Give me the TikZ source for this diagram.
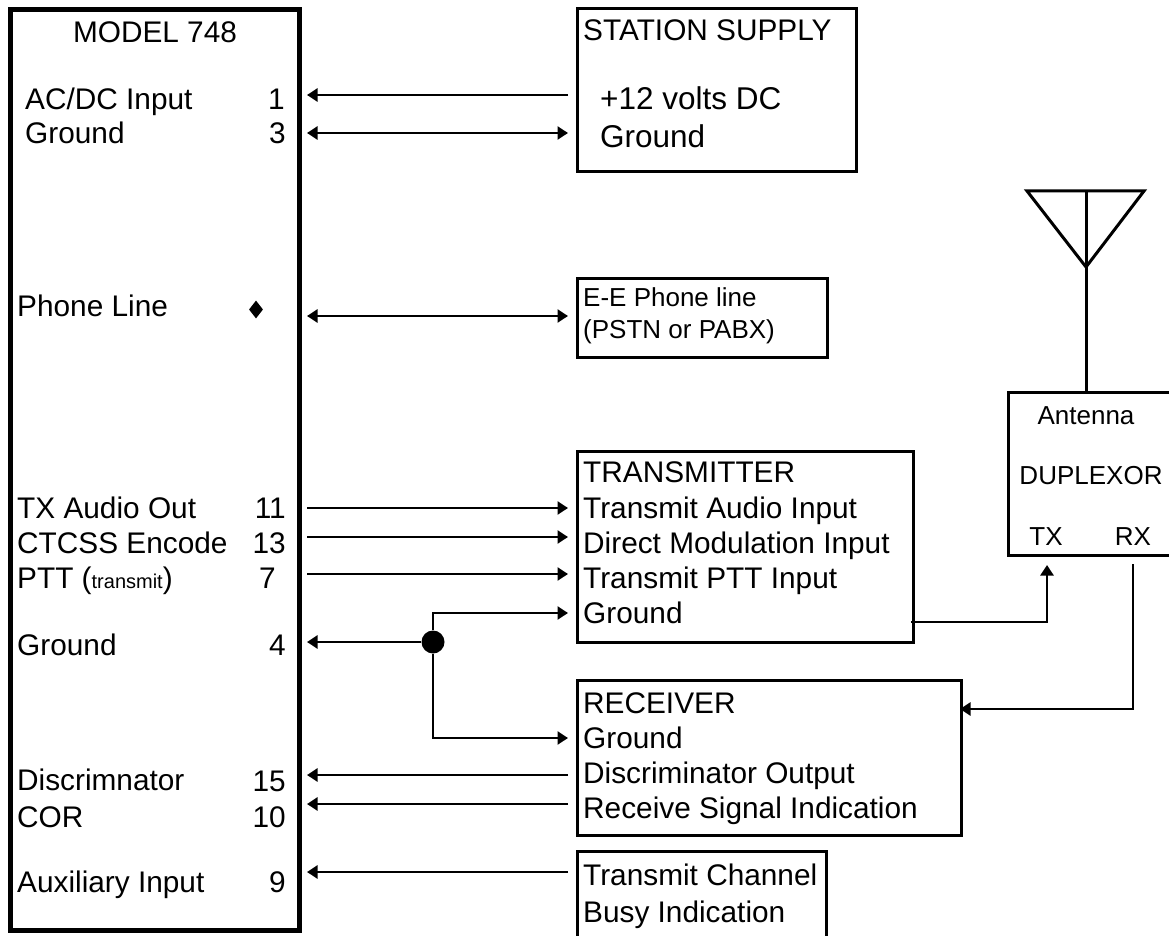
\documentclass[tikz,border=0pt]{standalone}
\usepackage{fontspec}
\setmainfont{Liberation Sans}
\usetikzlibrary{arrows.meta, shapes.geometric}
\newcommand{\fsmain}{\fontsize{29.8}{34}\selectfont}
\newcommand{\fsbig}{\fontsize{31.5}{36}\selectfont}
\newcommand{\fsdup}{\fontsize{26}{30}\selectfont}
\tikzset{
  box/.style={draw, line width=3pt, anchor=north west, inner sep=0pt, outer sep=0pt},
  lbl/.style={anchor=base west, inner sep=0pt, font=\fsmain},
  pin/.style={anchor=base east, inner sep=0pt, font=\fsmain},
  duplbl/.style={anchor=base, inner sep=0pt, font=\fsdup},
  arr/.style={-{Triangle[length=10.5pt,width=13pt]}, line width=2.4pt},
  arrboth/.style={{Triangle[length=10.5pt,width=13pt]}-{Triangle[length=10.5pt,width=13pt]}, line width=2.4pt},
  wire/.style={line width=3pt}
}

\begin{document}
\begin{tikzpicture}[x=1pt, y=-1pt]
  \useasboundingbox (0,0) rectangle (1169,936);
  % boxes
  \node[box, line width=5pt, minimum width=288.5pt, minimum height=920.5pt] (model) at (10.5,9.5) {};
  \node[box, minimum width=279pt, minimum height=163pt] (supply) at (577,9) {};
  \node[box, minimum width=250pt, minimum height=79pt] (phone) at (577,278) {};
  \node[box, minimum width=336pt, minimum height=191pt] (tx) at (577,451) {};
  \node[box, minimum width=384pt, minimum height=155pt] (rx) at (577,680) {};
  \node[box, minimum width=249pt, minimum height=95pt] (busy) at (577,851) {};
  \node[box, minimum width=175pt, minimum height=163pt] (dup) at (1008,392) {};

  % left side
  \node[anchor=base, inner sep=0pt, font=\fsmain] (mtitle) at (155,43) {MODEL 748};
  \node[lbl] (lacdc) at (25,110) {AC/DC Input};
  \node[lbl] (lgnda) at (25,144) {Ground};
  \node[pin] (p1) at (285,110) {1};
  \node[pin] (p3) at (286,144) {3};
  \node[lbl] (lphone) at (17,316) {Phone Line};
  \node[diamond, fill=black, inner sep=0pt, minimum width=14pt, minimum height=18pt, aspect=0.8] (pmark) at (256,309.5) {};
  \node[lbl] (ltxa) at (17,518) {TX Audio Out};
  \node[lbl] (lctcss) at (17,553) {CTCSS Encode};
  \node[lbl] (lptt) at (17,588) {PTT ({\fontsize{20}{24}\selectfont transmit})};
  \node[lbl] (lgndb) at (17,655) {Ground};
  \node[lbl] (ldisc) at (17,790) {Discrimnator};
  \node[lbl] (lcor) at (17,827) {COR};
  \node[lbl] (laux) at (17,892) {Auxiliary Input};
  \node[pin] (p11) at (286,518) {11};
  \node[pin] (p13) at (286,553) {13};
  \node[pin] (p7) at (276,588) {7};
  \node[pin] (p4) at (286,655) {4};
  \node[pin] (p15) at (286,791) {15};
  \node[pin] (p10) at (286,827) {10};
  \node[pin] (p9) at (286,892) {9};

  % right side
  \node[lbl] (tsupply) at (583,41) {STATION SUPPLY};
  \node[lbl, font=\fsbig] (tvolts) at (600,110) {+12 volts DC};
  \node[lbl, font=\fsbig] (tgnda) at (600,148) {Ground};
  \node[lbl, font=\fsdup] (tphonea) at (583,306) {E-E Phone line};
  \node[lbl, font=\fsdup] (tphoneb) at (583,338) {(PSTN or PABX)};
  \node[lbl] (ttx) at (583,482) {TRANSMITTER};
  \node[lbl] (ttxa) at (583,518) {Transmit Audio Input};
  \node[lbl] (tmod) at (583,553) {Direct Modulation Input};
  \node[lbl] (tptt) at (583,588) {Transmit PTT Input};
  \node[lbl] (tgndb) at (583,623) {Ground};
  \node[lbl] (trx) at (583,713) {RECEIVER};
  \node[lbl] (tgndc) at (583,748) {Ground};
  \node[lbl] (tdisc) at (583,783) {Discriminator Output};
  \node[lbl] (tsig) at (583,818) {Receive Signal Indication};
  \node[lbl] (tbusya) at (583,885) {Transmit Channel};
  \node[lbl] (tbusyb) at (583,922) {Busy Indication};

  % duplexor text
  \node[duplbl] (dant) at (1086,424) {Antenna};
  \node[duplbl] (ddup) at (1091,484) {DUPLEXOR};
  \node[duplbl] (dtx) at (1046,545) {TX};
  \node[duplbl] (drx) at (1133,545) {RX};

  % connector ends
  \coordinate (e1) at (307,95);   \coordinate (f1) at (568,95);
  \coordinate (e3) at (307,133);  \coordinate (f3) at (568,133);
  \coordinate (eph) at (307,316); \coordinate (fph) at (568,316);
  \coordinate (e11) at (307,508); \coordinate (f11) at (568,508);
  \coordinate (e13) at (307,537); \coordinate (f13) at (568,537);
  \coordinate (e7) at (307,574);  \coordinate (f7) at (568,574);
  \coordinate (e4) at (307,642);
  \coordinate (fg1) at (568,613); \coordinate (fg2) at (568,738);
  \coordinate (e15) at (307,775); \coordinate (f15) at (568,775);
  \coordinate (e10) at (307,804); \coordinate (f10) at (568,804);
  \coordinate (e9) at (307,872);  \coordinate (f9) at (568,872);
  \coordinate (txout) at (911,622);
  \coordinate (txin) at (1047,565);
  \coordinate (rxout) at (1133,564);
  \coordinate (rxin) at (960,709);
  \node[circle, fill=black, inner sep=0pt, minimum size=23pt] (jn) at (433,642) {};

  % connectors
  \draw[arr] (f1) -- (e1);
  \draw[arrboth] (e3) -- (f3);
  \draw[arrboth] (eph) -- (fph);
  \draw[arr] (e11) -- (f11);
  \draw[arr] (e13) -- (f13);
  \draw[arr] (e7) -- (f7);
  \draw[arr] (jn) -- (e4);
  \draw[arr] (jn) |- (fg1);
  \draw[arr] (jn) |- (fg2);
  \draw[arr] (f15) -- (e15);
  \draw[arr] (f10) -- (e10);
  \draw[arr] (f9) -- (e9);
  \draw[arr] (txout) -| (txin);
  \draw[arr] (rxout) |- (rxin);

  % antenna
  \coordinate (antl) at (1027,191);
  \coordinate (antr) at (1144,191);
  \coordinate (anttip) at (1086,267);
  \draw[wire, line join=miter] (antl) -- (antr) -- (anttip) -- cycle;
  \draw[wire] (1086,191) -- (anttip) -- (dup.north -| anttip);
\end{tikzpicture}
\end{document}
